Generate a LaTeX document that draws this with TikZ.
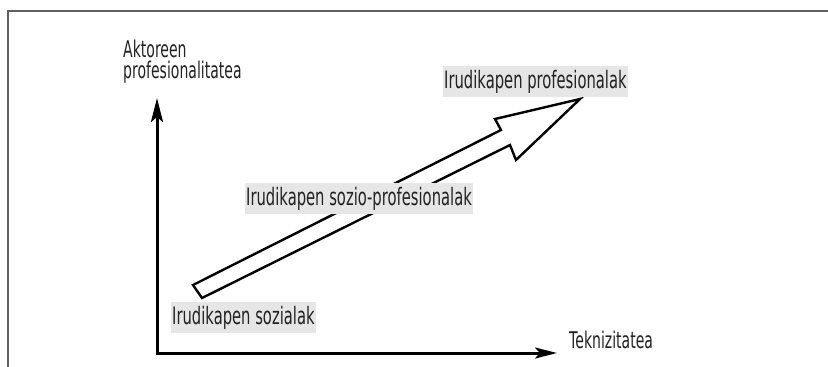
\documentclass[tikz,border=0pt]{standalone}
\usepackage{fontspec}
\usetikzlibrary{arrows.meta}
\newfontfamily\lblfont{DejaVu Sans}[FakeStretch=0.615]
\newfontfamily\axfont{DejaVu Sans}[FakeStretch=0.61]
\definecolor{lblbg}{HTML}{E6E6E6}
\definecolor{framec}{HTML}{5E5E5E}
\definecolor{txtc}{HTML}{222222}
\tikzset{
  lbl/.style={fill=lblbg, text=txtc, font=\lblfont\fontsize{24}{26}\selectfont,
    text height=19.5pt, text depth=5pt, inner xsep=1pt, inner ysep=3.25pt, anchor=west},
  axlbl/.style={text=txtc, font=\axfont\fontsize{23}{21}\selectfont, inner sep=0pt, align=left},
  axis/.style={line width=3pt, black},
  bigarrow/.style={line width=2.4pt, black, fill=white, line join=miter},
  frame/.style={line width=2pt, framec}
}
\begin{document}
\begin{tikzpicture}[x=1pt,y=-1pt]
\useasboundingbox (0,0) rectangle (828,367);
% frame
\draw[frame] (8,367) -- (8,11) -- (828,11);
% axes
\coordinate (ytip) at (157,98);
\coordinate (origin) at (157,353);
\coordinate (xtip) at (557,353);
\draw[axis, {Stealth[length=24pt,width=12pt,inset=5pt]}-{Stealth[length=22pt,width=11pt,inset=5pt]}]
  (ytip) -- (origin) -- (xtip);
% big hollow arrow
\draw[bigarrow] (193,285) -- (501,130) -- (495,119) -- (580,99) -- (516,160) -- (510,145) -- (202,298) -- cycle;
% labels
\node[lbl] (prof) at (443,81.5) {Irudikapen profesionalak};
\node[lbl] (sozprof) at (245,198.5) {Irudikapen sozio-profesionalak};
\node[lbl] (soz) at (171,317.5) {Irudikapen sozialak};
\node[axlbl, anchor=north west] (ylbl) at (123,39.5) {Aktoreen\\profesionalitatea};
\node[axlbl, anchor=base west] (xlbl) at (569,348) {Teknizitatea};
\end{tikzpicture}
\end{document}
